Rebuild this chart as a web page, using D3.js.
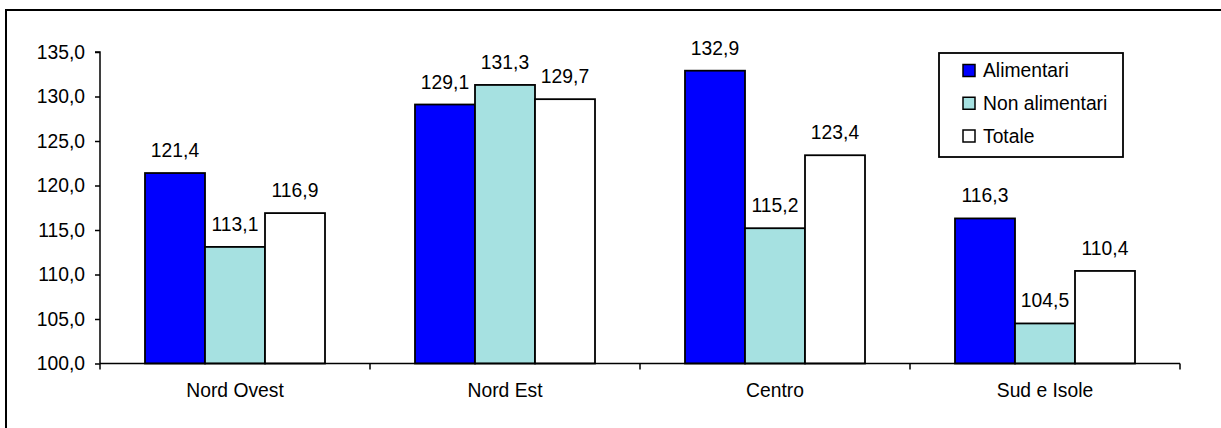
<!DOCTYPE html>
<html>
<head>
<meta charset="utf-8">
<script src="https://cdn.jsdelivr.net/npm/d3@7"></script>
<style>
  html, body { margin: 0; padding: 0; background: #fff; }
  svg { display: block; font-family: Arial, "Liberation Sans", sans-serif; }
</style>
</head>
<body>
<svg id="chart" width="1221" height="428"></svg>
<script>
// Indici per area geografica
const categories = ["Nord Ovest", "Nord Est", "Centro", "Sud e Isole"];
const seriesNames = ["Alimentari", "Non alimentari", "Totale"];
const alimentari = [121.4, 129.1, 132.9, 116.3];
const nonAlimentari = [113.1, 131.3, 115.2, 104.5];
const totale = [116.9, 129.7, 123.4, 110.4];
const yTicks = [100, 105, 110, 115, 120, 125, 130, 135];
const colors = ["#0000ff", "#a6e1e1", "#ffffff"];

const seriesValues = [alimentari, nonAlimentari, totale];
const fmt = v => v.toFixed(1).replace(".", ",");

const svg = d3.select("#chart");

// Outer frame
svg.append("rect")
  .attr("x", 6).attr("y", 10)
  .attr("width", 1240).attr("height", 440)
  .attr("fill", "none").attr("stroke", "#000").attr("stroke-width", 2);

const plot = { left: 100, right: 1180, top: 52, bottom: 363.5 };

const x0 = d3.scaleBand()
  .domain(categories)
  .range([plot.left, plot.right])
  .paddingInner(0).paddingOuter(0);

const x1 = d3.scaleBand()
  .domain(seriesNames)
  .range([0, x0.bandwidth()])
  .paddingInner(0)
  .paddingOuter(0.75);

const y = d3.scaleLinear().domain([100, 135]).range([plot.bottom, plot.top]);

const fontSize = 19.3;

// Y axis
const yAxis = svg.append("g")
  .attr("transform", `translate(${plot.left},0)`)
  .call(d3.axisLeft(y).tickValues(yTicks).tickSize(5).tickPadding(10).tickFormat(fmt));
yAxis.selectAll("path, line").attr("stroke", "#000").attr("stroke-width", 1.5);
yAxis.selectAll("text").attr("font-size", fontSize).attr("fill", "#000")
  .attr("font-family", "Arial, 'Liberation Sans', sans-serif");
yAxis.select(".domain").attr("d", `M-5,${plot.top}H0V${plot.bottom}`);

// Bars
const groups = svg.append("g").selectAll("g")
  .data(categories)
  .join("g")
  .attr("transform", d => `translate(${x0(d)},0)`);

groups.selectAll("rect")
  .data((c, i) => seriesNames.map((s, j) => ({ s, j, v: seriesValues[j][i] })))
  .join("rect")
  .attr("x", d => x1(d.s))
  .attr("y", d => y(d.v))
  .attr("width", x1.bandwidth())
  .attr("height", d => y(100) - y(d.v))
  .attr("fill", d => colors[d.j])
  .attr("stroke", "#000")
  .attr("stroke-width", 1.8);

groups.selectAll("text.val")
  .data((c, i) => seriesNames.map((s, j) => ({ s, j, v: seriesValues[j][i] })))
  .join("text")
  .attr("class", "val")
  .attr("x", d => x1(d.s) + x1.bandwidth() / 2)
  .attr("y", d => y(d.v) - 16)
  .attr("text-anchor", "middle")
  .attr("font-size", fontSize)
  .attr("fill", "#000")
  .text(d => fmt(d.v));

// X axis
const xAxis = svg.append("g")
  .attr("transform", `translate(0,${plot.bottom})`)
  .call(d3.axisBottom(x0).tickSize(0).tickPadding(20));
xAxis.select(".domain").attr("stroke", "#000").attr("stroke-width", 1.5)
  .attr("d", `M${plot.left},0H${plot.right}`);
xAxis.selectAll("text").attr("font-size", fontSize).attr("fill", "#000")
  .attr("font-family", "Arial, 'Liberation Sans', sans-serif");

// Category boundary ticks
const bounds = categories.map(c => x0(c)).concat([plot.right]);
xAxis.selectAll("line.bound")
  .data(bounds)
  .join("line")
  .attr("class", "bound")
  .attr("x1", d => d).attr("x2", d => d)
  .attr("y1", 0).attr("y2", 6)
  .attr("stroke", "#000").attr("stroke-width", 1.5);

// Legend
const legend = svg.append("g");
legend.append("rect")
  .attr("x", 939).attr("y", 53).attr("width", 184).attr("height", 104)
  .attr("fill", "#fff").attr("stroke", "#000").attr("stroke-width", 1.8);

const rowY = d3.scalePoint().domain(seriesNames).range([70.5, 136]);
const items = legend.selectAll("g.item")
  .data(seriesNames)
  .join("g")
  .attr("class", "item")
  .attr("transform", d => `translate(963,${rowY(d)})`);
items.append("rect")
  .attr("x", 0).attr("y", -6).attr("width", 12).attr("height", 12)
  .attr("fill", (d, i) => colors[i]).attr("stroke", "#000").attr("stroke-width", 1.5);
items.append("text")
  .attr("x", 20).attr("y", 0).attr("dy", "0.35em")
  .attr("font-size", fontSize).attr("fill", "#000")
  .text(d => d);
</script>
</body>
</html>
